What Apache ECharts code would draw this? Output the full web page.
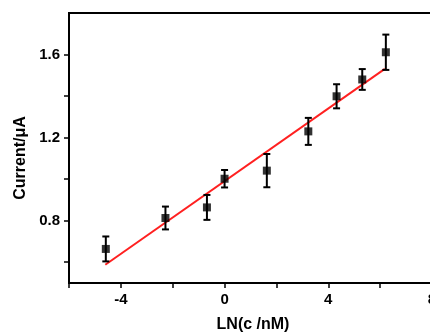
<!DOCTYPE html>
<html>
<head>
<meta charset="utf-8">
<script src="https://cdn.jsdelivr.net/npm/echarts@6/dist/echarts.min.js"></script>
<style>
  html, body { margin: 0; padding: 0; background: #fff; }
  #main { width: 430px; height: 332px; }
</style>
</head>
<body>
<div id="main"></div>
<script>
// measured points (x = LN(c/nM), y = current in uA, err = error bar half length)
var lnC = [-4.58, -2.28, -0.68, 0.0, 1.63, 3.23, 4.32, 5.31, 6.22];
var current = [0.664, 0.813, 0.864, 1.002, 1.041, 1.230, 1.399, 1.480, 1.611];
var errBar = [0.060, 0.055, 0.060, 0.042, 0.080, 0.065, 0.058, 0.050, 0.085];
// linear fit line end points
var fitX = [-4.6, 6.18];
var fitY = [0.588, 1.531];
// tick positions and labelled ticks
var yTicks = [0.6, 0.8, 1.0, 1.2, 1.4, 1.6];
var yLabels = [0.8, 1.2, 1.6];

var pts = lnC.map(function (x, i) { return [x, current[i]]; });
var errData = lnC.map(function (x, i) { return [x, current[i], errBar[i]]; });
var fitData = fitX.map(function (x, i) { return [x, fitY[i]]; });

var font = 'Liberation Sans, Arial, sans-serif';
var myChart = echarts.init(document.getElementById('main'));

option = {
    animation: false,
    grid: {
        left: 69, top: 13, right: -2, bottom: 49,
        show: true, borderColor: '#000', borderWidth: 2,
        outerBoundsMode: 'none'
    },
    xAxis: {
        type: 'value', min: -6, max: 8, interval: 2,
        name: 'LN(c /nM)', nameLocation: 'middle', nameGap: 34,
        nameTextStyle: { fontFamily: font, fontWeight: 'bold', fontSize: 16, color: '#000', padding: [0, 0, 0, 5] },
        axisLine: { onZero: false, lineStyle: { color: '#000', width: 2 } },
        axisTick: { length: 5, lineStyle: { color: '#000', width: 1.5 } },
        axisLabel: {
            margin: 9, fontFamily: font, fontWeight: 'bold', fontSize: 15, color: '#000',
            formatter: function (v) { return v % 4 === 0 ? String(v) : ''; }
        },
        splitLine: { show: false }
    },
    yAxis: {
        type: 'value', min: 0.5, max: 1.8,
        name: 'Current/μA', nameLocation: 'middle', nameGap: 39,
        nameTextStyle: { fontFamily: font, fontWeight: 'bold', fontSize: 16, color: '#000', padding: [0, 20, 0, 0] },
        axisLine: { onZero: false, lineStyle: { color: '#000', width: 2 } },
        axisTick: { length: 5, customValues: yTicks, lineStyle: { color: '#000', width: 1.5 } },
        axisLabel: {
            margin: 9, fontFamily: font, fontWeight: 'bold', fontSize: 15, color: '#000',
            customValues: yLabels,
            formatter: function (v) { return v.toFixed(1); }
        },
        splitLine: { show: false }
    },
    series: [
        {
            type: 'line',
            data: fitData,
            showSymbol: false,
            lineStyle: { color: '#ff2020', width: 2 },
            z: 2
        },
        {
            type: 'custom',
            data: errData,
            z: 3,
            renderItem: function (params, api) {
                var x = api.value(0), y = api.value(1), e = api.value(2);
                var top = api.coord([x, y + e]);
                var bot = api.coord([x, y - e]);
                var w = 3.5;
                var st = { stroke: '#000', lineWidth: 2 };
                return {
                    type: 'group',
                    children: [
                        { type: 'line', shape: { x1: top[0], y1: top[1], x2: bot[0], y2: bot[1] }, style: st },
                        { type: 'line', shape: { x1: top[0] - w, y1: top[1], x2: top[0] + w, y2: top[1] }, style: st },
                        { type: 'line', shape: { x1: bot[0] - w, y1: bot[1], x2: bot[0] + w, y2: bot[1] }, style: st }
                    ]
                };
            }
        },
        {
            type: 'scatter',
            data: pts,
            symbol: 'rect',
            symbolSize: 8,
            itemStyle: { color: '#000' },
            z: 4
        }
    ]
};

myChart.setOption(option);
</script>
</body>
</html>
